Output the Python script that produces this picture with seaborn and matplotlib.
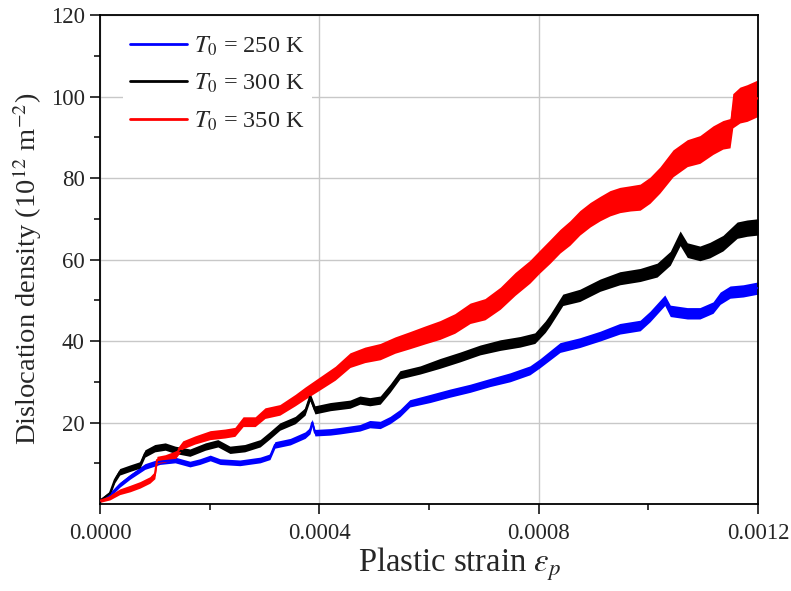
import numpy as np
import seaborn as sns
import matplotlib.pyplot as plt
from matplotlib.ticker import MultipleLocator, FormatStrFormatter

# 数据 (应变单位 1e-4, 位错密度单位 1e12 m^-2)
strain_250 = [0, 0.18, 0.36, 0.55, 0.82, 1.09, 1.37, 1.64, 1.82, 2.01,
              2.19, 2.55, 2.92, 3.10, 3.19, 3.47, 3.74, 3.83, 3.87, 3.92,
              4.20, 4.38, 4.74, 4.92, 5.11, 5.29, 5.47, 5.65, 6.02, 6.38,
              6.75, 7.11, 7.48, 7.84, 8.02, 8.39, 8.75, 9.12, 9.48, 9.85,
              10.03, 10.30, 10.40, 10.71, 10.94, 11.18, 11.31, 11.49, 11.73, 12.0]
rho_250 = [0.8, 2.2, 4.7, 6.7, 9.2, 10.4, 10.8, 9.8, 10.4, 11.3,
           10.4, 10.1, 10.8, 11.6, 14.5, 15.3, 16.9, 18.0, 20.0, 17.5,
           17.7, 18.0, 18.7, 19.6, 19.4, 20.6, 22.3, 24.7, 25.9, 27.2,
           28.4, 29.8, 31.1, 32.8, 34.5, 38.4, 39.6, 41.2, 43.0, 43.8,
           46.0, 50.0, 47.4, 46.8, 46.8, 48.2, 50.5, 52.0, 52.3, 53.0]
band_250 = [0.3, 0.5, 0.6, 0.6, 0.7, 0.7, 0.7, 0.7, 0.7, 0.7,
            0.7, 0.7, 0.7, 0.7, 0.8, 0.8, 0.8, 0.8, 0.8, 0.8,
            0.8, 0.8, 0.8, 0.9, 0.9, 0.9, 0.9, 0.9, 1.0, 1.0,
            1.0, 1.0, 1.1, 1.1, 1.1, 1.2, 1.2, 1.2, 1.3, 1.3,
            1.3, 1.3, 1.4, 1.4, 1.4, 1.4, 1.5, 1.5, 1.5, 1.5]

strain_300 = [0, 0.18, 0.27, 0.36, 0.55, 0.73, 0.82, 1.00, 1.19, 1.37,
              1.64, 1.92, 2.15, 2.37, 2.64, 2.92, 3.10, 3.28, 3.56, 3.74,
              3.83, 3.92, 4.20, 4.56, 4.74, 4.92, 5.11, 5.29, 5.47, 5.84,
              6.20, 6.57, 6.93, 7.30, 7.66, 7.93, 8.12, 8.21, 8.44, 8.75,
              9.12, 9.48, 9.85, 10.16, 10.40, 10.58, 10.71, 10.94, 11.12, 11.36,
              11.62, 11.80, 12.0]
rho_300 = [0.8, 2.6, 5.9, 7.9, 8.8, 9.6, 12.4, 13.7, 14.1, 13.3,
           12.6, 14.1, 14.9, 13.3, 13.7, 14.9, 16.9, 19.0, 20.6, 22.7,
           26.3, 23.1, 23.9, 24.5, 25.5, 25.1, 25.5, 28.4, 31.7, 32.9,
           34.5, 36.1, 37.8, 39.0, 39.8, 40.7, 43.5, 45.2, 50.1, 51.2,
           53.7, 55.4, 56.2, 57.4, 60.3, 65.2, 62.3, 61.5, 62.3, 64.0,
           67.2, 67.7, 68.0]
band_300 = [0.4, 0.6, 0.7, 0.8, 0.8, 0.8, 0.9, 0.9, 0.9, 0.9,
            0.9, 0.9, 0.9, 0.9, 0.9, 0.9, 0.9, 0.9, 0.9, 0.9,
            1.0, 1.0, 1.0, 1.0, 1.0, 1.0, 1.0, 1.0, 1.0, 1.0,
            1.2, 1.2, 1.2, 1.3, 1.3, 1.3, 1.4, 1.4, 1.4, 1.5,
            1.5, 1.6, 1.6, 1.7, 1.7, 1.8, 1.8, 1.8, 1.9, 1.9,
            2.0, 2.0, 2.0]

strain_350 = [0, 0.18, 0.36, 0.55, 0.73, 0.91, 1.00, 1.04, 1.19, 1.37,
              1.51, 1.73, 2.01, 2.28, 2.46, 2.61, 2.83, 3.01, 3.28, 3.56,
              3.74, 4.01, 4.29, 4.56, 4.83, 5.11, 5.38, 5.65, 5.93, 6.20,
              6.47, 6.75, 7.02, 7.30, 7.57, 7.84, 8.02, 8.21, 8.39, 8.57,
              8.75, 8.94, 9.12, 9.30, 9.48, 9.67, 9.85, 10.03, 10.21, 10.45,
              10.71, 10.94, 11.18, 11.36, 11.49, 11.54, 11.67, 11.80, 12.0]
rho_350 = [0.8, 1.6, 3.0, 3.8, 4.7, 5.9, 7.1, 10.8, 11.2, 12.0,
           14.5, 15.7, 16.9, 17.3, 17.7, 20.2, 20.2, 22.3, 23.1, 25.5,
           27.2, 29.6, 32.1, 35.3, 36.6, 37.4, 39.0, 40.2, 41.5, 42.7,
           44.3, 46.8, 47.8, 50.5, 54.0, 57.0, 59.5, 62.0, 64.5, 66.5,
           69.0, 71.0, 72.5, 73.8, 74.6, 75.0, 75.3, 77.0, 79.5, 83.6,
           86.1, 87.0, 89.3, 90.6, 91.0, 96.5, 97.9, 98.4, 99.6]
band_350 = [0.4, 0.6, 0.7, 0.8, 0.8, 0.8, 0.9, 0.9, 0.9, 1.0,
            1.0, 1.0, 1.1, 1.1, 1.1, 1.2, 1.2, 1.3, 1.3, 1.4,
            1.5, 1.6, 1.7, 1.8, 1.9, 2.0, 2.0, 2.1, 2.2, 2.3,
            2.4, 2.5, 2.6, 2.7, 2.8, 2.8, 2.8, 2.9, 2.9, 3.0,
            3.0, 3.0, 3.0, 3.1, 3.1, 3.1, 3.2, 3.2, 3.2, 3.3,
            3.3, 3.4, 3.5, 3.5, 3.6, 4.2, 4.4, 4.5, 4.5]

labels = [r'$\mathit{T}_{\mathit{0}}$ = 250 K',
          r'$\mathit{T}_{\mathit{0}}$ = 300 K',
          r'$\mathit{T}_{\mathit{0}}$ = 350 K']
colors = ['#0000ff', '#000000', '#ff0000']

# 绘图风格及字体
sns.set_style("ticks")
plt.rcParams['font.family'] = ['Liberation Serif', 'DejaVu Serif']
plt.rcParams['mathtext.fontset'] = 'stix'

fig, ax = plt.subplots(figsize=(7.91, 5.91), dpi=100)
fig.subplots_adjust(left=0.1264, right=0.9583, bottom=0.1472, top=0.9746)

curves = [(strain_250, rho_250, band_250),
          (strain_300, rho_300, band_300),
          (strain_350, rho_350, band_350)]

for (s, r, b), c, lab in zip(curves, colors, labels):
    x = np.array(s) * 1e-4
    y = np.array(r)
    w = np.array(b)
    ax.fill_between(x, y - w, y + w, color=c, lw=0, zorder=2)
    sns.lineplot(x=x, y=y, color=c, lw=1.5, label=lab, ax=ax,
                 sort=False, estimator=None, zorder=3)

# 坐标轴
ax.set_xlim(0, 0.0012)
ax.set_ylim(0, 120)
ax.set_xticks([0, 0.0004, 0.0008, 0.0012])
ax.xaxis.set_major_formatter(FormatStrFormatter('%.4f'))
ax.xaxis.set_minor_locator(MultipleLocator(0.0002))
ax.set_yticks([20, 40, 60, 80, 100, 120])
ax.set_yticks([10, 30, 50, 70, 90, 110], minor=True)

ax.grid(True, which='major', color='#c8c8c8', lw=1.0)
ax.set_axisbelow(True)

for sp in ax.spines.values():
    sp.set_linewidth(1.3)
    sp.set_color('black')

ax.tick_params(axis='both', which='major', direction='out', length=7,
               width=1.1, labelsize=16.5, color='black')
ax.tick_params(axis='both', which='minor', direction='out', length=4,
               width=1.1, color='black')
ax.tick_params(axis='x', which='major', pad=7)
ax.tick_params(axis='y', which='major', pad=4)

ax.set_xlabel(r'Plastic strain $\varepsilon_p$', fontsize=23.5)
ax.xaxis.set_label_coords(0.547, -0.085)
ax.set_ylabel(r'Dislocation density (10$^{12}$ m$^{-2}$)', fontsize=20.5)
ax.yaxis.set_label_coords(-0.085, 0.48)

leg = ax.legend(loc='upper left', bbox_to_anchor=(0.016, 1.0), fontsize=17.5,
                frameon=True, facecolor='white', edgecolor='none',
                framealpha=1, handlelength=2.35, labelspacing=0.58,
                handletextpad=0.3, borderpad=0.3)
for ln in leg.get_lines():
    ln.set_linewidth(2)
leg.set_zorder(5)

fig.savefig('out.png', dpi=100)
